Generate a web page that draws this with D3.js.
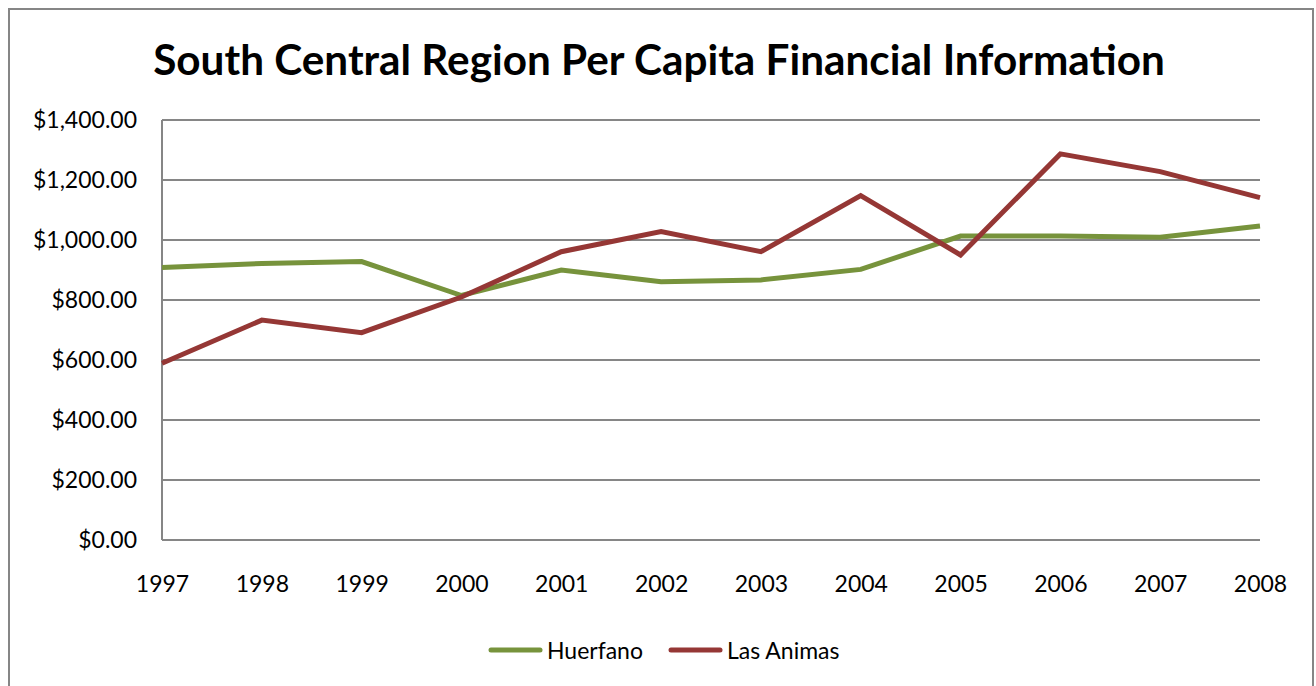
<!DOCTYPE html>
<html><head><meta charset="utf-8">
<script src="https://cdn.jsdelivr.net/npm/d3@7"></script>
<style>body{margin:0;background:#fff}svg{display:block}text{font-family:Lato,"Open Sans",sans-serif;fill:#000}</style>
</head><body>
<svg id="c" width="1316" height="686"></svg>
<script>
const years = ["1997","1998","1999","2000","2001","2002","2003","2004","2005","2006","2007","2008"];
const huerfano = [908, 922, 928, 815, 900, 861, 867, 902, 1013, 1013, 1009, 1047];
const lasAnimas = [589, 733, 691, 810, 961, 1028, 961, 1148, 950, 1287, 1228, 1141];
const yTicks = [0, 200, 400, 600, 800, 1000, 1200, 1400];
const seriesNames = ["Huerfano", "Las Animas"];
const colors = ["#77933C", "#953735"];
const title = "South Central Region Per Capita Financial Information";

const svg = d3.select("#c");
svg.append("rect").attr("x",9).attr("y",9).attr("width",1304).attr("height",700)
  .attr("fill","#fff").attr("stroke","#868686").attr("stroke-width",2);

const x = d3.scalePoint().domain(years).range([162, 1260]);
const y = d3.scaleLinear().domain([0, 1400]).range([540, 120]);

svg.append("g").selectAll("line").data(yTicks).join("line")
  .attr("x1",162).attr("x2",1260).attr("y1",d=>y(d)).attr("y2",d=>y(d))
  .attr("stroke","#868686").attr("stroke-width",2);
svg.append("line").attr("x1",162).attr("x2",162).attr("y1",120).attr("y2",540)
  .attr("stroke","#868686").attr("stroke-width",2);

const fmt = d3.format("$,.2f");
const yAxis = d3.axisLeft(y).tickValues(yTicks).tickFormat(fmt).tickSize(0).tickPadding(25);
const ya = svg.append("g").attr("transform","translate(162,0)").call(yAxis);
ya.select(".domain").remove();
ya.selectAll("text").attr("font-size",23).attr("font-family","Lato").attr("fill","#000");

const xAxis = d3.axisBottom(x).tickSize(0).tickPadding(36);
const xa = svg.append("g").attr("transform","translate(0,540)").call(xAxis);
xa.select(".domain").remove();
xa.selectAll("text").attr("font-size",23).attr("font-family","Lato").attr("fill","#000");

const line = d3.line().x((d,i)=>x(years[i])).y(d=>y(d));
[huerfano, lasAnimas].forEach((s,k)=>{
  svg.append("path").datum(s).attr("d",line).attr("fill","none")
    .attr("stroke",colors[k]).attr("stroke-width",5).attr("stroke-linejoin","miter");
});

const t = svg.append("text").attr("x",659).attr("y",75).attr("text-anchor","middle")
  .attr("font-weight","bold").attr("font-size",44).text(title);
const tw = t.node().getComputedTextLength();
t.attr("font-size", 44*1012/tw);

const lg = svg.append("g");
let lx = 491;
seriesNames.forEach((n,k)=>{
  lg.append("line").attr("x1",lx).attr("x2",lx+49).attr("y1",650).attr("y2",650)
    .attr("stroke",colors[k]).attr("stroke-width",5).attr("stroke-linecap","round");
  const tt = lg.append("text").attr("x",lx+56).attr("y",659).attr("font-size",23).text(n);
  lx += 56 + tt.node().getComputedTextLength() + 28;
});
</script>
</body></html>
